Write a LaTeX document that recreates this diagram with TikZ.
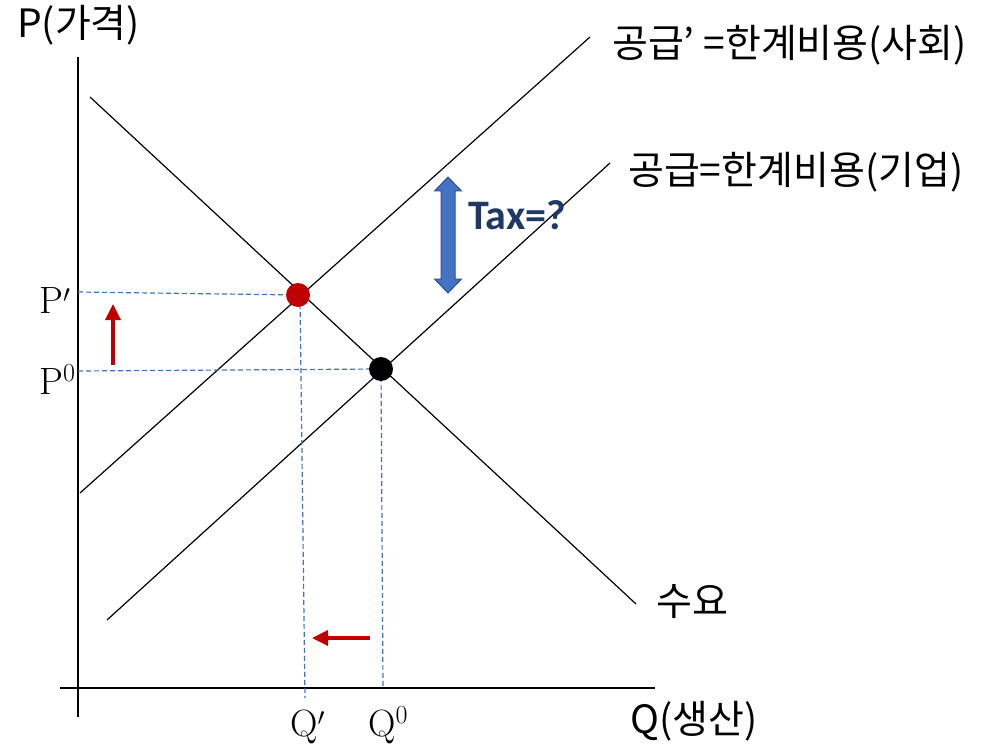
\documentclass[tikz,border=0pt]{standalone}
\usepackage{fontspec}
\newfontfamily\krfont{Noto Sans CJK KR}
\newfontfamily\taxfont{Carlito}
\usetikzlibrary{arrows.meta}
\definecolor{dashblue}{RGB}{68,114,196}
\definecolor{arrred}{RGB}{192,0,0}
\definecolor{taxfill}{RGB}{68,114,196}
\definecolor{taxedge}{RGB}{47,82,143}
\definecolor{taxtext}{RGB}{31,56,100}
\newcommand{\supzero}{\raisebox{13pt}{\fontsize{26}{26}\selectfont 0}}
\newcommand{\supprime}{\raisebox{1pt}{$'$}}
\begin{document}
\begin{tikzpicture}[x=1pt,y=-1pt,
  curve/.style={line width=1.2pt,black},
  axis/.style={line width=1.8pt,black},
  guide/.style={line width=1.2pt,dashblue,dash pattern=on 5pt off 3pt},
  movearrow/.style={line width=3.4pt,arrred,-{Triangle[length=16pt,width=15pt]}},
  krlabel/.style={font=\krfont\fontsize{39}{42}\selectfont,inner sep=0pt},
  mathlabel/.style={font=\fontsize{38}{40}\selectfont,inner sep=0pt},
  dot/.style={circle,inner sep=0pt,minimum size=24pt}]
\useasboundingbox (0,0) rectangle (988,746);
% axes
\coordinate (yTop) at (78,57);
\coordinate (yBot) at (78,717);
\coordinate (xL) at (60,688);
\coordinate (xR) at (655,688);
\draw[axis] (yTop) -- (yBot);
\draw[axis] (xL) -- (xR);
% curves
\coordinate (dA) at (90,97);
\coordinate (dB) at (636,604);
\coordinate (sA) at (80,493);
\coordinate (sB) at (590,37);
\coordinate (fA) at (107,620);
\coordinate (fB) at (610,163);
\draw[curve] (dA) -- (dB);
\draw[curve] (sA) -- (sB);
\draw[curve] (fA) -- (fB);
% guides
\coordinate (pPrime) at (78,292);
\coordinate (pZero) at (78,371);
\coordinate (qPrimeTop) at (300,296);
\coordinate (qPrimeEnd) at (305,698);
\coordinate (qZeroEnd) at (383,688);
\coordinate (redC) at (298,295);
\coordinate (blkC) at (381,369);
\draw[guide] (pPrime) -- (redC);
\draw[guide] (pZero) -- (blkC);
\draw[guide] (qPrimeTop) -- (qPrimeEnd);
\draw[guide] (blkC) -- (qZeroEnd);
\node[dot,fill=arrred] (red) at (redC) {};
\node[dot,fill=black] (blk) at (blkC) {};
% red arrows
\coordinate (upS) at (113,365);
\coordinate (upE) at (113,304);
\draw[movearrow] (upS) -- (upE);
\coordinate (lfS) at (370,638);
\coordinate (lfE) at (312,638);
\draw[movearrow] (lfS) -- (lfE);
% tax arrow
\filldraw[fill=taxfill,draw=taxedge,line width=1pt]
  (448,177) -- (461.5,191) -- (455,191) -- (455,279) -- (461.5,279) -- (448,293)
  -- (434.5,279) -- (441,279) -- (441,191) -- (434.5,191) -- cycle;
\node[anchor=west,inner sep=0pt,text=taxtext,font=\taxfont\bfseries\fontsize{42}{44}\selectfont] (tax) at (468,215) {Tax=?};
% labels
\node[krlabel,anchor=west] (pLab) at (17,25) {P(가격)};
\node[krlabel,anchor=west] (sLab) at (612,45) {공급’ =한계비용(사회)};
\node[krlabel,anchor=west] (fLab) at (628,172) {공급=한계비용(기업)};
\node[krlabel,anchor=west] (dLab) at (656,602) {수요};
\node[krlabel,anchor=west] (qLab) at (630,721) {Q(생산)};
\node[mathlabel,anchor=base west] (ppL) at (39,313) {P\supprime};
\node[mathlabel,anchor=base west] (p0L) at (39,394) {P\supzero};
\node[mathlabel,anchor=base west] (qpL) at (290,736) {Q\supprime};
\node[mathlabel,anchor=base west] (q0L) at (368,736) {Q\supzero};
\end{tikzpicture}
\end{document}
